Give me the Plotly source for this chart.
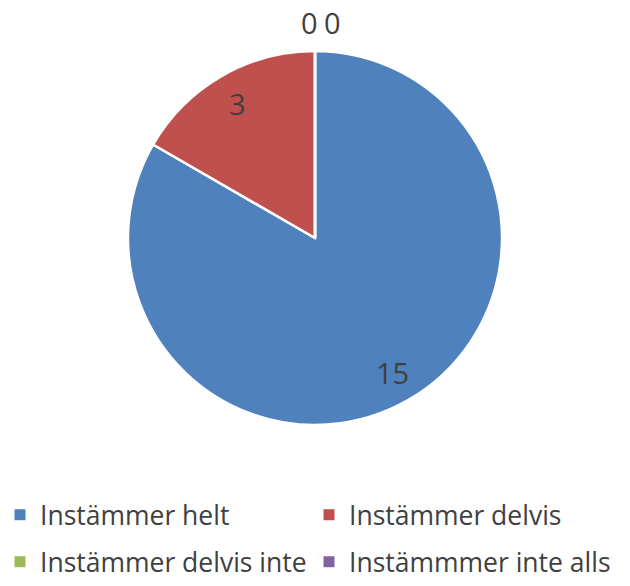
import math
import plotly.graph_objects as go

categories = ["Instämmer helt", "Instämmer delvis", "Instämmer delvis inte", "Instämmmer inte alls"]
values = [15, 3, 0, 0]
colors = ["#4F81BD", "#C0504D", "#9BBB59", "#8064A2"]

W, H = 630, 586
cx, cy, R = 315, 238, 187
FONT = "Open Sans"
TXT = "#404040"

fig = go.Figure()
fig.add_trace(go.Pie(
    labels=categories, values=values, sort=False, direction="clockwise", rotation=0,
    marker=dict(colors=colors, line=dict(color="white", width=2.5)),
    textinfo="none", showlegend=False, hoverinfo="label+value",
    domain=dict(x=[(cx - R) / W, (cx + R) / W], y=[1 - (cy + R) / H, 1 - (cy - R) / H]),
))

# data labels placed by slice mid-angle
total = sum(values)
cum = 0
zero_shift = [-5, 18]
zi = 0
for v in values:
    mid = (cum + v / 2) / total * 2 * math.pi
    cum += v
    if v > 0:
        r = 0.83 * R
        xs = 0
    else:
        r = 1.15 * R
        xs = zero_shift[zi] if zi < len(zero_shift) else 0
        zi += 1
    px = cx + r * math.sin(mid) + xs
    py = cy - r * math.cos(mid)
    fig.add_annotation(x=px / W, y=1 - py / H, xref="paper", yref="paper", text=str(v),
                       showarrow=False, font=dict(family=FONT, size=29, color=TXT),
                       xanchor="center", yanchor="middle")

# legend entries
for i, (c, col) in enumerate(zip(categories, colors)):
    fig.add_trace(go.Scatter(x=[None], y=[None], mode="markers", name=c,
                             marker=dict(symbol="square", size=11, color=col),
                             legend="legend" if i < 2 else "legend2", hoverinfo="skip"))

leg = dict(orientation="h", xanchor="left", x=0.0,
           font=dict(family=FONT, size=26.5, color=TXT), entrywidth=264, entrywidthmode="pixels",
           bgcolor="rgba(0,0,0,0)", itemclick=False, itemdoubleclick=False)
fig.update_layout(
    width=W, height=H, margin=dict(l=0, r=0, t=0, b=0),
    paper_bgcolor="white", plot_bgcolor="white",
    xaxis=dict(visible=False), yaxis=dict(visible=False),
    legend=dict(leg, y=1 - 515 / H, yanchor="middle"),
    legend2=dict(leg, y=0.0, yanchor="bottom"),
)
fig.write_html("out.html", config={"displayModeBar": False},
               post_script="document.body.style.margin='0';")
